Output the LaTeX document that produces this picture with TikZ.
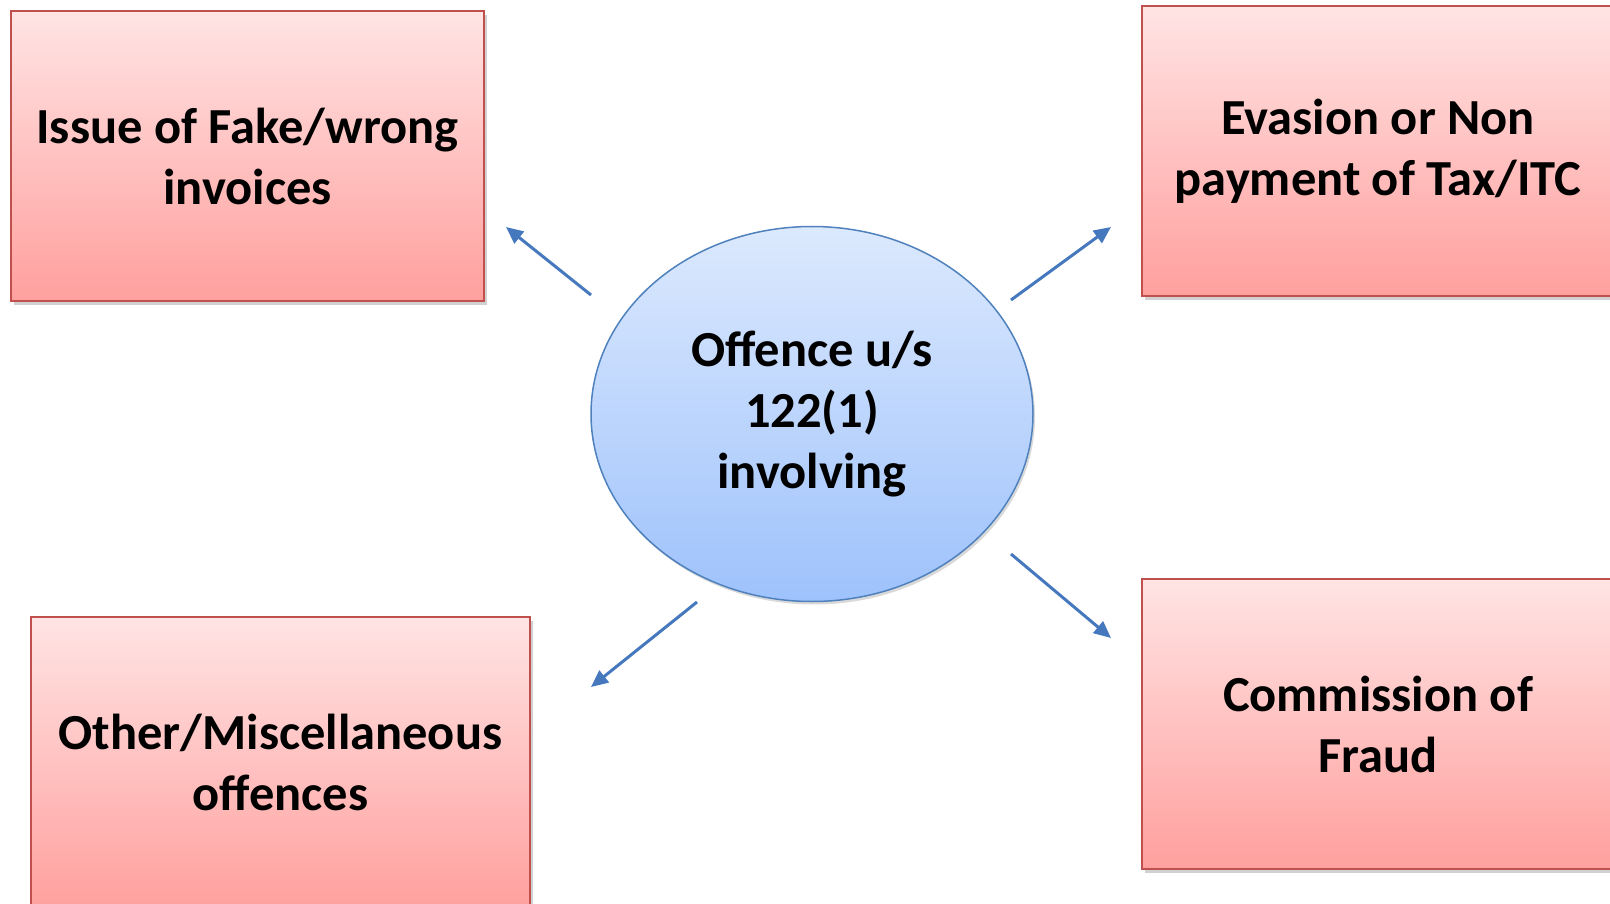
\documentclass[tikz,border=0pt]{standalone}
\usepackage{fontspec}
\setmainfont{Carlito}
\usetikzlibrary{shapes.geometric,arrows.meta,shadows}
\definecolor{boxtop}{RGB}{255,228,228}
\definecolor{boxbot}{RGB}{255,160,158}
\definecolor{boxline}{RGB}{192,80,77}
\definecolor{elltop}{RGB}{220,233,253}
\definecolor{ellbot}{RGB}{158,194,252}
\definecolor{ellline}{RGB}{79,129,189}
\definecolor{arrowc}{RGB}{70,120,190}
\tikzset{
  txt/.style={font=\fontsize{50.5}{61}\selectfont\bfseries, align=center, text=black},
  offbox/.style={rectangle, draw=boxline, line width=2pt, top color=boxtop, bottom color=boxbot,
     inner sep=0pt, txt, drop shadow={opacity=0.3, shadow xshift=3pt, shadow yshift=-4pt, fill=black!60}},
  centre/.style={ellipse, draw=ellline, line width=1.5pt, top color=elltop, bottom color=ellbot,
     inner sep=0pt, txt, minimum width=442pt, minimum height=375pt,
     drop shadow={opacity=0.25, shadow xshift=2pt, shadow yshift=-3pt, fill=black!60}},
  conn/.style={draw=arrowc, line width=3pt, -{Triangle[length=17pt,width=15pt]}}
}
\begin{document}
\begin{tikzpicture}[x=1pt,y=-1pt]
\useasboundingbox (0,0) rectangle (1610,904);
\node[offbox, minimum width=473pt, minimum height=290pt] (b1) at (247.5,156) {Issue of Fake/wrong\\invoices};
\node[offbox, minimum width=472pt, minimum height=290pt] (b2) at (1378,151) {Evasion or Non\\payment of Tax/ITC};
\node[offbox, minimum width=499pt, minimum height=291pt] (b3) at (280.5,762.5) {Other/Miscellaneous\\offences};
\node[offbox, minimum width=472pt, minimum height=290pt] (b4) at (1378,724) {Commission of\\Fraud};
\node[centre] (c) at (812,414) {Offence u/s\\122(1)\\involving};
\coordinate (s1) at (591,295);
\coordinate (e1) at (506,227);
\coordinate (s2) at (1011,300);
\coordinate (e2) at (1111,227);
\coordinate (s3) at (697,602);
\coordinate (e3) at (591,687);
\coordinate (s4) at (1011,554);
\coordinate (e4) at (1111,638);
\draw[conn] (s1) -- (e1);
\draw[conn] (s2) -- (e2);
\draw[conn] (s3) -- (e3);
\draw[conn] (s4) -- (e4);
\end{tikzpicture}
\end{document}
